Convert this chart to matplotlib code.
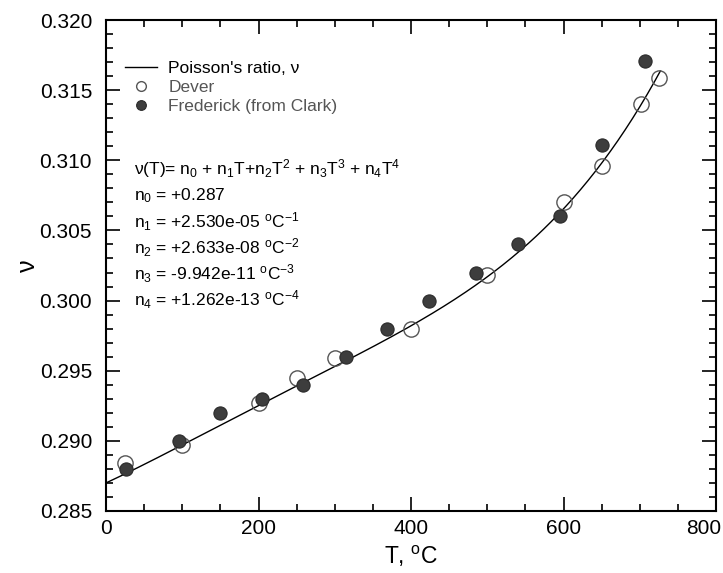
import numpy as np
import matplotlib
matplotlib.use("Agg")
import matplotlib.pyplot as plt
from matplotlib.lines import Line2D
from matplotlib.ticker import MultipleLocator, FuncFormatter

plt.rcParams['font.family'] = ['Liberation Sans', 'DejaVu Sans']
plt.rcParams['mathtext.fontset'] = 'custom'
plt.rcParams['mathtext.rm'] = 'Liberation Sans'
plt.rcParams['mathtext.it'] = 'Liberation Sans'

# Dever (open circles)
dever_T = [25, 100, 200, 250, 300, 400, 500, 600, 650, 702, 725]
dever_nu = [0.2884, 0.2897, 0.2927, 0.2945, 0.2959, 0.2980, 0.3018, 0.3070, 0.3096, 0.3140, 0.3159]

# Frederick (from Clark) (filled circles)
fred_T = [26, 96, 150, 205, 259, 315, 369, 424, 485, 540, 596, 651, 707]
fred_nu = [0.2880, 0.2900, 0.2920, 0.2930, 0.2940, 0.2960, 0.2980, 0.3000, 0.3020, 0.3040, 0.3060, 0.3111, 0.3171]

# polynomial fit coefficients n0..n4 as printed on the chart
coef = [0.287, 2.530e-05, 2.633e-08, -9.942e-11, 1.262e-13]
fit_range = (0, 727)

eq_lines = [
    r"ν(T)= n$_0$ + n$_1$T+n$_2$T$^2$ + n$_3$T$^3$ + n$_4$T$^4$",
    r"n$_0$ = +0.287",
    r"n$_1$ = +2.530e-05 $^\mathregular{o}$C$^\mathregular{-1}$",
    r"n$_2$ = +2.633e-08 $^\mathregular{o}$C$^\mathregular{-2}$",
    r"n$_3$ = -9.942e-11 $^\mathregular{o}$C$^\mathregular{-3}$",
    r"n$_4$ = +1.262e-13 $^\mathregular{o}$C$^\mathregular{-4}$",
]

xmax = 800

fig = plt.figure(figsize=(7.23, 5.73), dpi=100)
ax = fig.add_axes([106/723, 1 - 511/573, 610/723, 491/573])

T = np.linspace(fit_range[0], fit_range[1], 300)
nu = np.polyval(coef[::-1], T)
ax.plot(T, nu, color='black', lw=1.0, zorder=2)
ax.plot(dever_T, dever_nu, 'o', ms=11, mfc='none', mec='#555555', mew=1.0, zorder=3)
ax.plot(fred_T, fred_nu, 'o', ms=9.5, mfc='#3d3d3d', mec='#2a2a2a', mew=0.8, zorder=4)

ax.set_xlim(0, xmax)
ax.set_ylim(0.285, 0.320)
ax.xaxis.set_major_locator(MultipleLocator(200))
ax.xaxis.set_minor_locator(MultipleLocator(50))
ax.yaxis.set_major_locator(MultipleLocator(0.005))
ax.yaxis.set_minor_locator(MultipleLocator(0.001))
ax.yaxis.set_major_formatter(plt.FormatStrFormatter('%.3f'))
# last x label is drawn separately, slightly left of its tick as in the original
ax.xaxis.set_major_formatter(FuncFormatter(lambda v, p: '' if v >= xmax else '%d' % v))
ax.annotate('%d' % xmax, xy=(xmax, 0), xycoords=('data', 'axes fraction'),
            xytext=(-9, -6), textcoords='offset points', ha='center', va='top',
            fontsize=15, annotation_clip=False)
ax.tick_params(which='both', direction='in', top=True, right=True, labelsize=15, width=1.2)
ax.tick_params(which='major', length=10)
ax.tick_params(which='minor', length=5)
ax.tick_params(axis='x', which='major', pad=6)
ax.tick_params(axis='y', which='major', pad=10)
for s in ax.spines.values():
    s.set_linewidth(1.5)

ax.set_xlabel(r"T, $^\mathregular{o}$C", fontsize=16.5, labelpad=4)
ax.set_ylabel("ν", fontsize=18, rotation=90, labelpad=0)

handles = [
    Line2D([], [], color='black', lw=1.0),
    Line2D([], [], ls='none', marker='o', ms=7, mfc='none', mec='#555555', mew=1.0),
    Line2D([], [], ls='none', marker='o', ms=7, mfc='#3d3d3d', mec='#2a2a2a', mew=0.8),
]
leg = ax.legend(handles, ["Poisson's ratio, ν", "Dever", "Frederick (from Clark)"],
                loc='upper left', bbox_to_anchor=(0.031, 0.917), frameon=False,
                fontsize=12.5, borderpad=0, borderaxespad=0, labelspacing=0.22,
                handlelength=1.85, handletextpad=0.65)
for t, c in zip(leg.get_texts(), ['black', '#555555', '#555555']):
    t.set_color(c)

y0 = 0.6965
for i, line in enumerate(eq_lines):
    ax.text(0.046, y0 - i * 0.0534, line, transform=ax.transAxes, fontsize=12.5,
            va='center', ha='left')

fig.savefig("out.png", dpi=100)
